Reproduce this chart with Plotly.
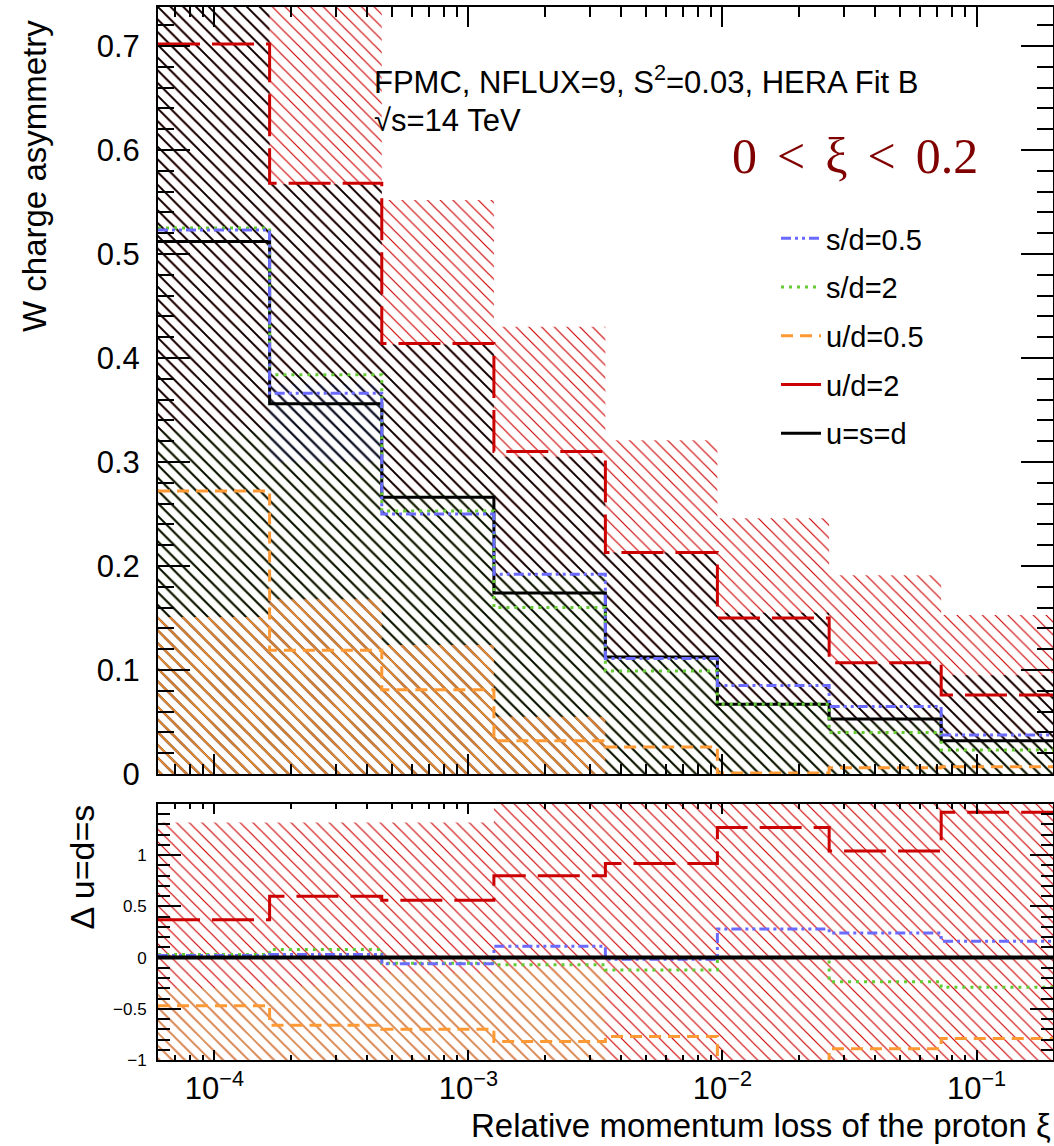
import math
import plotly.graph_objects as go

# ---------------- data ----------------
edges = [6.0e-5, 1.65e-4, 4.56e-4, 1.26e-3, 3.46e-3, 9.55e-3, 2.63e-2, 7.26e-2, 0.2]

asym_usd  = [0.512, 0.356, 0.266, 0.174, 0.1125, 0.067, 0.053, 0.032]
asym_sd05 = [0.523, 0.366, 0.250, 0.192, 0.111, 0.085, 0.065, 0.0375]
asym_sd2  = [0.525, 0.384, 0.253, 0.160, 0.099, 0.067, 0.040, 0.023]
asym_ud05 = [0.272, 0.119, 0.081, 0.032, 0.026, 0.001, 0.006, 0.007]
asym_ud2  = [0.702, 0.568, 0.414, 0.310, 0.213, 0.150, 0.107, 0.076]

# uncertainty bands (upper / lower edges) in the asymmetry panel
band_ud2_hi  = [0.90, 0.90, 0.552, 0.430, 0.321, 0.246, 0.191, 0.153]
band_usd_hi  = [0.90, 0.567, 0.413, 0.305, 0.213, 0.155, 0.106, 0.095]
band_sd2_hi  = [0.33, 0.36, 0.27, 0.19, 0.11, 0.07, 0.05, 0.03]
band_sd05_hi = [0.0, 0.375, 0.0, 0.0, 0.0, 0.0, 0.0, 0.0]
band_sd05_lo = [0.0, 0.30, 0.0, 0.0, 0.0, 0.0, 0.0, 0.0]
band_ud05_hi = [0.151, 0.168, 0.124, 0.055, 0.0, 0.0, 0.0, 0.0]
band_lo      = [0.0, 0.0, 0.0, 0.0, 0.0, 0.0, 0.0, 0.0]

# ratio panel: relative difference to u=d=s
delta_usd  = [0.0, 0.0, 0.0, 0.0, 0.0, 0.0, 0.0, 0.0]
delta_sd05 = [0.02, 0.03, -0.06, 0.11, -0.015, 0.28, 0.24, 0.16]
delta_sd2  = [0.03, 0.08, -0.055, -0.07, -0.12, 0.0, -0.235, -0.29]
delta_ud05 = [-0.47, -0.66, -0.70, -0.82, -0.77, -1.05, -0.89, -0.79]
delta_ud2  = [0.37, 0.60, 0.56, 0.80, 0.92, 1.27, 1.04, 1.42]

ratio_band_ud2_lo  = [-1.1, -1.1, -1.1, -1.1, -1.1, -1.1, -1.1, -1.1]
ratio_band_ud2_hi  = [1.32, 1.32, 1.32, 1.7, 1.7, 1.7, 1.7, 1.7]
ratio_band_ud05_lo = [-1.1, -1.1, -1.1, -1.1, -1.1, -1.1, -1.1, -1.1]
ratio_band_ud05_hi = [-0.30, -0.28, -0.15, -0.10, -1.1, -1.1, -1.1, -1.1]

series_names = ["s/d=0.5", "s/d=2", "u/d=0.5", "u/d=2", "u=s=d"]

# ---------------- styles ----------------
C_BLUE = "#6a6aff"
C_GREEN = "#62cc33"
C_ORANGE = "#ff9933"
C_RED = "#cc0000"
C_BLACK = "#000000"
C_TAN = "#d9a05a"
FONT = "Liberation Sans"

W, H = 1054, 1146
X0, X1 = 158, 1053
TOP_Y0, TOP_Y1 = 7, 774
BOT_Y0, BOT_Y1 = 804, 1060

def px(xp):
    return xp / W

def py(yp):
    return 1 - yp / H

def step_xy(vals):
    return list(edges), list(vals) + [vals[-1]]

def band_poly(lo, hi):
    xs, ys = [], []
    for i in range(len(hi)):
        xs += [edges[i], edges[i + 1]]
        ys += [hi[i], hi[i]]
    for i in reversed(range(len(lo))):
        xs += [edges[i + 1], edges[i]]
        ys += [lo[i], lo[i]]
    return xs + [xs[0]], ys + [ys[0]]

fig = go.Figure()

HATCH = 9

def add_band(lo, hi, color, solidity, xa, ya):
    xs, ys = band_poly(lo, hi)
    fig.add_trace(go.Scatter(
        x=xs, y=ys, xaxis=xa, yaxis=ya, mode="lines",
        line=dict(width=0, color="rgba(0,0,0,0)"),
        fill="toself", fillcolor="rgba(0,0,0,0)",
        fillpattern=dict(shape="\\", fgcolor=color, bgcolor="rgba(0,0,0,0)",
                         size=HATCH, solidity=solidity, fillmode="replace"),
        showlegend=False, hoverinfo="skip"))

def add_hist(vals, color, dash, xa, ya, width=3):
    xs, ys = step_xy(vals)
    fig.add_trace(go.Scatter(
        x=xs, y=ys, xaxis=xa, yaxis=ya, mode="lines", line_shape="hv",
        line=dict(color=color, width=width, dash=dash),
        showlegend=False, hoverinfo="skip"))

DASH_BLUE = "10px,4px,3px,4px,3px,4px"
DASH_GREEN = "3px,5px"
DASH_ORANGE = "12px,7px"
DASH_RED = "42px,12px"

# ---- top panel bands ----
add_band(band_lo, band_ud2_hi, C_RED, 0.13, "x", "y")
add_band(band_ud05_hi, band_sd2_hi, "#b5dc98", 0.27, "x", "y")
add_band(band_sd05_lo, band_sd05_hi, "#b0b0ff", 0.27, "x", "y")
add_band(band_lo, band_usd_hi, C_BLACK, 0.2, "x", "y")
add_band(band_lo, band_ud05_hi, C_ORANGE, 0.18, "x", "y")

# ---- top panel histograms ----
add_hist(asym_ud05, C_ORANGE, DASH_ORANGE, "x", "y")
add_hist(asym_ud2, C_RED, DASH_RED, "x", "y")
add_hist(asym_usd, C_BLACK, "solid", "x", "y")
add_hist(asym_sd2, C_GREEN, DASH_GREEN, "x", "y")
add_hist(asym_sd05, C_BLUE, DASH_BLUE, "x", "y")

# ---- ratio panel bands ----
add_band(ratio_band_ud2_lo, ratio_band_ud2_hi, C_RED, 0.13, "x2", "y2")
add_band(ratio_band_ud05_lo, ratio_band_ud05_hi, C_TAN, 0.16, "x2", "y2")

# ---- ratio panel histograms ----
add_hist(delta_ud05, C_ORANGE, DASH_ORANGE, "x2", "y2")
add_hist(delta_ud2, C_RED, DASH_RED, "x2", "y2")
add_hist(delta_sd2, C_GREEN, DASH_GREEN, "x2", "y2")
add_hist(delta_sd05, C_BLUE, DASH_BLUE, "x2", "y2")
add_hist(delta_usd, C_BLACK, "solid", "x2", "y2", width=4)

# ---- legend-only entries ----
legend_styles = [(C_BLUE, DASH_BLUE), (C_GREEN, DASH_GREEN), (C_ORANGE, DASH_ORANGE),
                 (C_RED, "solid"), (C_BLACK, "solid")]
for name, (col, dash) in zip(series_names, legend_styles):
    fig.add_trace(go.Scatter(x=[None], y=[None], mode="lines", name=name,
                             line=dict(color=col, width=3, dash=dash),
                             legendgroup=name, showlegend=True))

# ---------------- axes ----------------
major = [1e-4, 1e-3, 1e-2, 1e-1]
minor = [k * 10.0 ** n for n in range(-5, 0) for k in range(2, 10)
         if edges[0] <= k * 10.0 ** n <= edges[-1]]
xrange_log = [math.log10(edges[0]), math.log10(edges[-1])]
xticktext = ["10<sup>\u22124</sup>", "10<sup>\u22123</sup>", "10<sup>\u22122</sup>", "10<sup>\u22121</sup>"]

common_x = dict(type="log", range=xrange_log, domain=[px(X0), px(X1)],
                tickmode="array", tickvals=major, ticks="inside", automargin=False,
                showline=True, linecolor="black", linewidth=2, mirror="allticks",
                showgrid=False, zeroline=False, tickcolor="black", tickwidth=1.5,
                minor=dict(tickmode="array", tickvals=minor, ticks="inside",
                           tickcolor="black", tickwidth=1.5, showgrid=False))

fig.update_layout(
    template="none",
    xaxis=dict(common_x, anchor="y", showticklabels=False, ticklen=20,
               minor=dict(common_x["minor"], ticklen=10)),
    xaxis2=dict(common_x, anchor="y2", showticklabels=True, ticktext=xticktext,
                ticklen=10, minor=dict(common_x["minor"], ticklen=5),
                tickfont=dict(family=FONT, size=31, color="black"), ticklabelstandoff=0),
    yaxis=dict(domain=[py(TOP_Y1), py(TOP_Y0)], range=[0, 0.7375], anchor="x",
               automargin=False,
               tickmode="linear", tick0=0, dtick=0.1, ticks="inside", ticklen=32,
               tickcolor="black", tickwidth=1.5,
               minor=dict(dtick=0.02, ticklen=16, ticks="inside", tickcolor="black",
                          tickwidth=1.5, showgrid=False),
               showline=True, linecolor="black", linewidth=2, mirror="allticks",
               showgrid=False, zeroline=False,
               tickfont=dict(family=FONT, size=31, color="black"), ticklabelstandoff=10),
    yaxis2=dict(domain=[py(BOT_Y1), py(BOT_Y0)], range=[-1, 1.5], anchor="x2",
                automargin=False,
                tickmode="array", tickvals=[-1, -0.5, 0, 0.5, 1],
                ticktext=["\u22121", "\u22120.5", "0", "0.5", "1"],
                ticks="inside", ticklen=23, tickcolor="black", tickwidth=1.5,
                minor=dict(tickmode="linear", tick0=0, dtick=0.1, ticklen=12,
                           ticks="inside", tickcolor="black", tickwidth=1.5,
                           showgrid=False),
                showline=True, linecolor="black", linewidth=2, mirror="allticks",
                showgrid=False, zeroline=False,
                tickfont=dict(family=FONT, size=17, color="black"), ticklabelstandoff=6),
)

# ---------------- texts ----------------
annotations = [
    dict(text="W charge asymmetry", textangle=-90, x=px(35), y=py(18),
         xanchor="center", yanchor="top", font=dict(family=FONT, size=33)),
    dict(text="\u0394 u=d=s", textangle=-90, x=px(81), y=py(803),
         xanchor="center", yanchor="top", font=dict(family=FONT, size=34)),
    dict(text="Relative momentum loss of the proton \u03be", x=px(1053), y=py(1125),
         xanchor="right", yanchor="middle", font=dict(family=FONT, size=33)),
    dict(text="FPMC, NFLUX=9, S<sup>2</sup>=0.03, HERA Fit B", x=px(372), y=py(80),
         xanchor="left", yanchor="middle", font=dict(family=FONT, size=31)),
    dict(text="\u221as=14 TeV", x=px(372), y=py(121),
         xanchor="left", yanchor="middle", font=dict(family=FONT, size=31)),
    dict(text="0\u2009\u2009&lt;\u2009\u2009\u03be\u2009\u2009&lt;\u2009\u20090.2",
         x=px(855), y=py(156), xanchor="center", yanchor="middle",
         font=dict(family="Liberation Serif", size=50, color="#800000")),
]
for a in annotations:
    a.update(xref="paper", yref="paper", showarrow=False)
    a["font"].setdefault("color", "black")

fig.update_layout(
    annotations=annotations,
    width=W, height=H, margin=dict(l=0, r=0, t=0, b=0, pad=0, autoexpand=False),
    paper_bgcolor="white", plot_bgcolor="white",
    font=dict(family=FONT, color="black"),
    legend=dict(x=px(776), y=py(213), xanchor="left", yanchor="top",
                bgcolor="rgba(0,0,0,0)", font=dict(family=FONT, size=29),
                tracegroupgap=8, itemwidth=40),
    showlegend=True,
)

fig.write_html("out.html")
